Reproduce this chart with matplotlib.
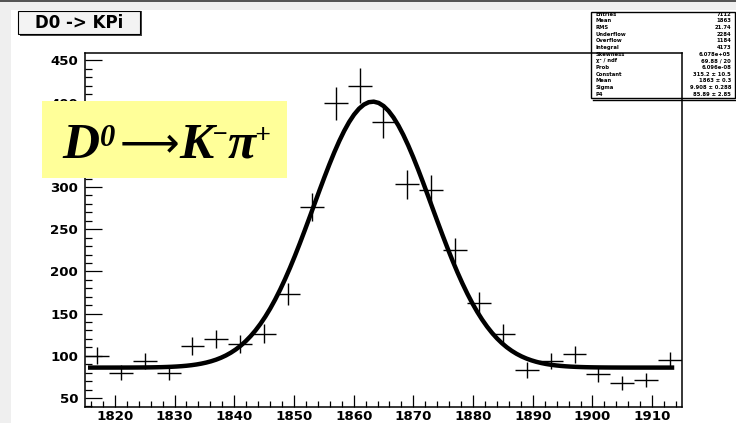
import numpy as np
import matplotlib
matplotlib.use("Agg")
import matplotlib.pyplot as plt
from matplotlib.patches import Rectangle
from matplotlib.lines import Line2D

# histogram D0 -> K pi (4 MeV bins)
mass = [1817, 1821, 1825, 1829, 1833, 1837, 1841, 1845, 1849, 1853, 1857, 1861, 1865,
        1869, 1873, 1877, 1881, 1885, 1889, 1893, 1897, 1901, 1905, 1909, 1913]
counts = [100, 80, 94, 80, 112, 120, 114, 126, 173, 276, 399, 420, 377,
          303, 297, 225, 163, 126, 83, 94, 102, 78, 68, 71, 95]

# gaus + pol0 fit parameters
fit_const, fit_mean, fit_sigma, fit_bkg = 315.2, 1863.2, 9.9, 86.0

stat_names = ["Entries", "Mean", "RMS", "Underflow", "Overflow", "Integral", "Skewness",
              "\u03c7\u00b2 / ndf", "Prob", "Constant", "Mean", "Sigma", "P4"]
stat_vals = ["7112", "1863", "21.74", "2284", "1184", "4173", "6.078e+05",
             "69.88 / 20", "6.096e-08", "315.2 \u00b1 10.5", "1863 \u00b1 0.3",
             "9.908 \u00b1 0.288", "85.89 \u00b1 2.85"]

W, H = 736, 423
def fx(x):
    return x / W
def fy(y):
    return 1 - y / H

fig = plt.figure(figsize=(7.36, 4.23), dpi=100)
fig.patch.set_facecolor("white")

# canvas border bits
fig.add_artist(Rectangle((0, fy(10)), 1, 10 / H, transform=fig.transFigure,
                         facecolor="#efefef", edgecolor="none", zorder=0))
fig.add_artist(Rectangle((0, 0), fx(11), 1, transform=fig.transFigure,
                         facecolor="#efefef", edgecolor="none", zorder=0))
fig.add_artist(Rectangle((0, fy(2)), 1, 2 / H, transform=fig.transFigure,
                         facecolor="#555555", edgecolor="none", zorder=1))

ax = fig.add_axes([fx(85), fy(407), fx(682) - fx(85), fy(53) - fy(407)])
ax.set_xlim(1815, 1915)
ax.set_ylim(39.3, 458.8)

x = np.array(mass, dtype=float)
y = np.array(counts, dtype=float)
ax.errorbar(x, y, xerr=2, yerr=np.sqrt(y), fmt="none", ecolor="black",
            elinewidth=1.0, capsize=0, zorder=3)

xf = np.linspace(1815.5, 1913.7, 120)
yf = fit_bkg + fit_const * np.exp(-0.5 * ((xf - fit_mean) / fit_sigma) ** 2)
ax.plot(xf, yf, color="black", lw=3.2, zorder=4, solid_capstyle="butt")

ax.set_xticks(np.arange(1820, 1911, 10))
ax.set_xticks(np.arange(1816, 1915, 2), minor=True)
ax.set_yticks(np.arange(50, 451, 50))
ax.set_yticks(np.arange(40, 459, 10), minor=True)
ax.tick_params(axis="both", which="both", direction="in", top=False, right=False,
               width=0.9, colors="black")
ax.tick_params(axis="y", which="major", length=12.2, pad=5)
ax.tick_params(axis="y", which="minor", length=5)
ax.tick_params(axis="x", which="major", length=8.6, pad=2)
ax.tick_params(axis="x", which="minor", length=4.3)
for lab in ax.get_xticklabels() + ax.get_yticklabels():
    lab.set_fontweight("bold")
    lab.set_fontsize(9.6)
    lab.set_family("DejaVu Sans")
for sp in ax.spines.values():
    sp.set_linewidth(1.1)

# title box
fig.add_artist(Rectangle((fx(20), fy(36)), fx(122), 25 / H, transform=fig.transFigure,
                         facecolor="#444444", edgecolor="none", zorder=5))
fig.add_artist(Rectangle((fx(18), fy(34)), fx(122), 23 / H, transform=fig.transFigure,
                         facecolor="#f3f3f3", edgecolor="black", lw=0.8, zorder=6))
fig.text(fx(79), fy(23), "D0 -> KPi", ha="center", va="center", fontsize=12,
         fontweight="bold", family="DejaVu Sans", zorder=7)

# stats box (transparent, frame shows through)
fig.add_artist(Rectangle((fx(591), fy(98)), fx(144), 86 / H, transform=fig.transFigure,
                         facecolor="none", edgecolor="black", lw=1.0, zorder=6))
fig.add_artist(Line2D([fx(593), fx(736)], [fy(100), fy(100)], transform=fig.transFigure,
                      color="black", lw=1.0, zorder=6))
for i, (nm, vl) in enumerate(zip(stat_names, stat_vals)):
    yy = fy(14 + 6.7 * i)
    fig.text(fx(596), yy, nm, ha="left", va="center", fontsize=3.8,
             fontweight="bold", family="DejaVu Sans", zorder=7)
    fig.text(fx(731), yy, vl, ha="right", va="center", fontsize=3.8,
             fontweight="bold", family="DejaVu Sans", zorder=7)

# yellow label, built piece by piece: (text, size, raise px, gap before px, weight)
fig.add_artist(Rectangle((fx(42), fy(178)), fx(245), 77 / H, transform=fig.transFigure,
                         facecolor="#ffff99", edgecolor="none", zorder=8))
pieces = [("D", 37, 0, 0, "bold"), ("0", 22, 12, 1, "bold"),
          ("\u27f6", 30, 2, 4, "normal"), ("K", 37, 0, 0, "bold"),
          ("\u2212", 19, 16, -1, "bold"), ("\u03c0", 37, 0, -1, "bold"),
          ("+", 20, 15, -1, "bold")]
renderer = fig.canvas.get_renderer()
cur_x = 62
base_y = 158
for txt, size, lift, gap, wt in pieces:
    cur_x += gap
    t = fig.text(fx(cur_x), fy(base_y - lift), txt, ha="left", va="baseline",
                 fontsize=size, fontweight=wt, fontstyle="italic",
                 family=["Liberation Serif", "DejaVu Sans"], zorder=9)
    bb = t.get_window_extent(renderer=renderer)
    cur_x += bb.width

fig.savefig("out.png", dpi=100)
